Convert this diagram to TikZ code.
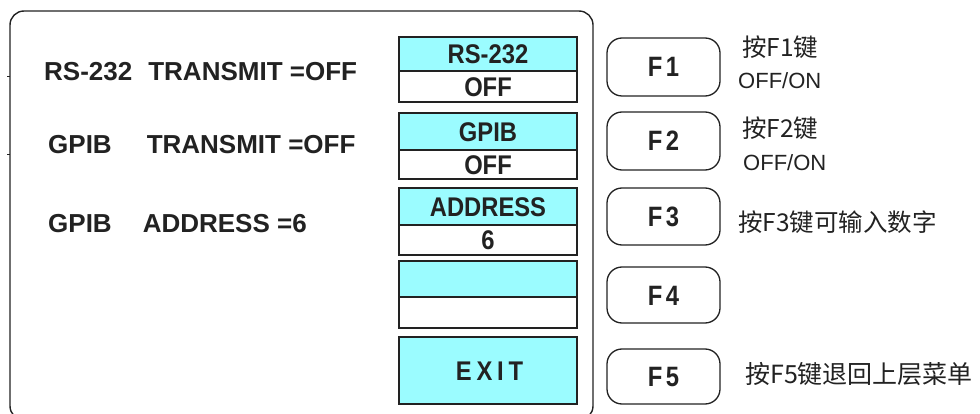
\documentclass[tikz,border=0pt]{standalone}
\usepackage{fontspec}
\setmainfont{Liberation Sans}
\newfontfamily\cjk{Noto Sans CJK SC}
\newfontfamily\boxfont[FakeStretch=0.88]{Liberation Sans}
\newfontfamily\spacedfont[FakeStretch=0.88,LetterSpace=18]{Liberation Sans}
\newfontfamily\fkeyfont[FakeStretch=0.85,LetterSpace=12]{Liberation Sans}
\definecolor{panelcyan}{HTML}{9BFCFF}
\definecolor{ink}{HTML}{222222}
\begin{document}
\begin{tikzpicture}[x=1pt,y=-1pt,
  lbl/.style={anchor=base west, inner sep=0pt, font=\bfseries\fontsize{26}{30}\selectfont, text=ink},
  cyanbox/.style={draw=ink, line width=1.6pt, fill=panelcyan, minimum width=178pt, inner sep=0pt,
     text height=19.3pt, text depth=0pt, font=\boxfont\bfseries\fontsize{27}{30}\selectfont, text=ink},
  whitebox/.style={cyanbox, fill=white},
  fkeybox/.style={draw=ink, line width=1.3pt, rounded corners=15pt, minimum width=113pt, inner sep=0pt,
     text height=20pt, text depth=0pt, font=\fkeyfont\bfseries\fontsize{28}{30}\selectfont, text=ink},
  note/.style={anchor=west, inner sep=0pt, font=\cjk\fontsize{24.5}{28}\selectfont, text=ink},
  onoff/.style={anchor=west, inner sep=0pt, font=\fontsize{22}{26}\selectfont, text=ink}]
\useasboundingbox (0,0) rectangle (980,414);
\fill[white] (0,0) rectangle (980,414);
% outer frame
\draw[ink, line width=1.4pt, rounded corners=14pt] (10,11) rectangle (593,420);
\draw[ink, line width=1pt] (7,77) -- (10,77);
\draw[ink, line width=1pt] (7,155) -- (10,155);
% left labels
\node[lbl] (l1) at (44,81) {RS-232\hspace{16pt}TRANSMIT =OFF};
\node[lbl] (l2) at (48,154) {GPIB\hspace{35pt}TRANSMIT =OFF};
\node[lbl] (l3) at (48,233) {GPIB\hspace{31pt}ADDRESS =6};
% soft key boxes
\node[cyanbox, minimum height=34pt] (b1t) at (488,54) {RS-232};
\node[whitebox, minimum height=31pt] (b1b) at (488,86.5) {OFF};
\node[cyanbox, minimum height=37pt] (b2t) at (488,131.5) {GPIB};
\node[whitebox, minimum height=29pt] (b2b) at (488,164.5) {OFF};
\node[cyanbox, minimum height=37pt] (b3t) at (488,206.5) {ADDRESS};
\node[whitebox, minimum height=30pt] (b3b) at (488,240) {6};
\node[cyanbox, minimum height=36pt] (b4t) at (488,279) {};
\node[whitebox, minimum height=31pt] (b4b) at (488,312.5) {};
\node[cyanbox, minimum height=67pt, font=\spacedfont\bfseries\fontsize{27}{30}\selectfont] (b5) at (488,370.5) {\hspace*{3pt}EXIT};
% function keys
\node[fkeybox, minimum height=58pt] (f1) at (663.5,67) {F1};
\node[fkeybox, minimum height=58pt] (f2) at (663.5,141) {F2};
\node[fkeybox, minimum height=57pt] (f3) at (663.5,216.5) {F3};
\node[fkeybox, minimum height=56pt] (f4) at (663.5,295) {F4};
\node[fkeybox, minimum height=55pt] (f5) at (663.5,376.5) {F5};
% notes
\node[note] (n1) at (742,47) {按F1键};
\node[onoff] (o1) at (738,81) {OFF/ON};
\node[note] (n2) at (742,128) {按F2键};
\node[onoff] (o2) at (743,163) {OFF/ON};
\node[note] (n3) at (738,222) {按F3键可输入数字};
\node[note, font=\cjk\fontsize{25}{28}\selectfont] (n5) at (745,374) {按F5键退回上层菜单};
\end{tikzpicture}
\end{document}
